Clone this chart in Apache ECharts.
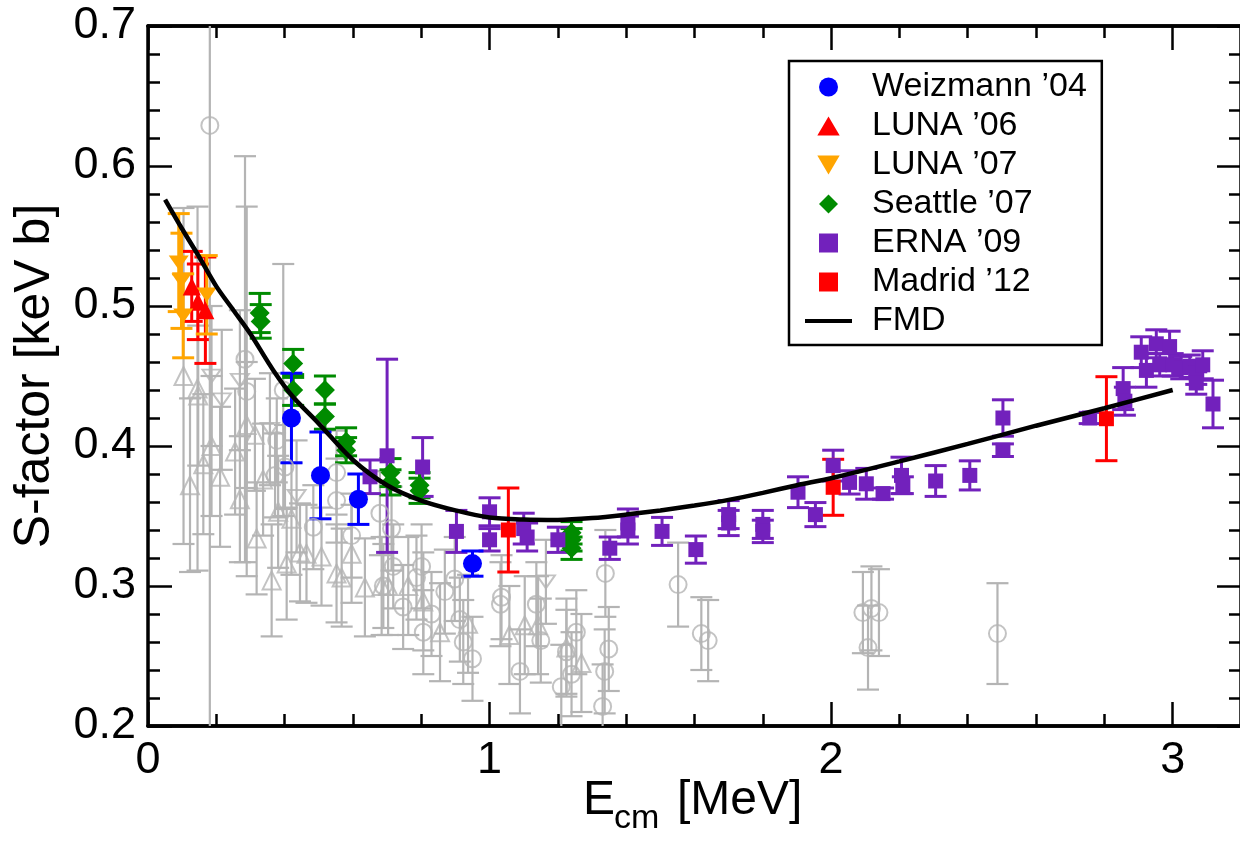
<!DOCTYPE html>
<html>
<head>
<meta charset="utf-8">
<script src="https://cdn.jsdelivr.net/npm/echarts@6/dist/echarts.min.js"></script>
<style>
html, body { margin: 0; padding: 0; background: #fff; }
#chart { width: 1240px; height: 842px; }
</style>
</head>
<body>
<div id="chart"></div>
<script>
// each point: [E_cm (MeV), S (keV b), error]
const weizmann = [[0.42, 0.42, 0.032], [0.505, 0.379, 0.031], [0.616, 0.362, 0.018], [0.95, 0.316, 0.009]];
const luna06 = [[0.128, 0.514, 0.025], [0.146, 0.503, 0.027], [0.168, 0.497, 0.038]];
const luna07 = [[0.09, 0.531, 0.035], [0.098, 0.518, 0.034], [0.103, 0.493, 0.03], [0.172, 0.508, 0.028]];
const seattle = [[0.327, 0.495, 0.014], [0.33, 0.489, 0.012], [0.425, 0.459, 0.01], [0.425, 0.44, 0.011],
	[0.518, 0.44, 0.01], [0.518, 0.421, 0.009], [0.58, 0.403, 0.01], [0.58, 0.397, 0.009],
	[0.71, 0.381, 0.01], [0.71, 0.374, 0.009], [0.795, 0.372, 0.009], [0.795, 0.368, 0.009],
	[1.24, 0.338, 0.008], [1.24, 0.333, 0.008], [1.24, 0.327, 0.008]];
const erna = [[0.65, 0.378, 0.012], [0.70, 0.393, 0.069], [0.804, 0.385, 0.021], [0.903, 0.339, 0.015],
	[1.0, 0.353, 0.01], [1.0, 0.333, 0.008], [1.10, 0.341, 0.011], [1.11, 0.335, 0.01],
	[1.20, 0.333, 0.009], [1.352, 0.327, 0.008], [1.405, 0.345, 0.01], [1.405, 0.340, 0.01],
	[1.505, 0.339, 0.01], [1.604, 0.326, 0.0097], [1.70, 0.351, 0.01], [1.70, 0.345, 0.009],
	[1.80, 0.344, 0.01], [1.80, 0.339, 0.008], [1.903, 0.367, 0.011], [1.954, 0.351, 0.0086],
	[2.006, 0.386, 0.011], [2.054, 0.374, 0.0083], [2.103, 0.373, 0.011], [2.152, 0.366, 0.004],
	[2.206, 0.379, 0.013], [2.21, 0.372, 0.006], [2.306, 0.375, 0.011], [2.406, 0.379, 0.0104],
	[2.503, 0.42, 0.013], [2.503, 0.397, 0.0045], [2.757, 0.42, 0.004], [2.855, 0.441, 0.015],
	[2.86, 0.432, 0.01], [2.908, 0.467, 0.011], [2.923, 0.454, 0.012], [2.952, 0.473, 0.01],
	[2.991, 0.471, 0.011], [2.962, 0.458, 0.008], [3.0, 0.458, 0.008], [3.025, 0.456, 0.008],
	[3.05, 0.457, 0.008], [3.069, 0.452, 0.008], [3.088, 0.458, 0.01], [3.069, 0.445, 0.008],
	[3.118, 0.430, 0.017]];
const madrid = [[1.055, 0.340, 0.03], [2.006, 0.3705, 0.02], [2.806, 0.4195, 0.03]];

// FMD calculation
const fmdE = [0.05, 0.1, 0.15, 0.2, 0.25, 0.3, 0.367, 0.425, 0.5, 0.6, 0.7, 0.8, 0.9, 1.0, 1.1, 1.2,
	1.3, 1.4, 1.5, 1.6, 1.7, 1.8, 1.9, 2.0, 2.2, 2.4, 2.6, 2.8, 3.0];
const fmdS = [0.576, 0.555, 0.535, 0.514, 0.497, 0.48, 0.454, 0.435, 0.416, 0.39, 0.372, 0.361, 0.354, 0.349, 0.3475, 0.3472,
	0.3485, 0.351, 0.354, 0.3575, 0.3615, 0.3665, 0.372, 0.377, 0.389, 0.4015, 0.4145, 0.427, 0.44];

// older measurements (grey)
const greyCircles = [[0.181, 0.629, 0.45], [0.284, 0.462, 0.145], [0.289, 0.439, 0.132], [0.396, 0.44, 0.09],
	[0.377, 0.404, 0.03], [0.401, 0.385, 0.03], [0.372, 0.379, 0.03], [0.552, 0.381, 0.03],
	[0.552, 0.361, 0.03], [0.484, 0.342, 0.03], [0.596, 0.336, 0.03], [0.679, 0.352, 0.03],
	[0.713, 0.341, 0.03], [0.718, 0.314, 0.03], [0.801, 0.314, 0.03], [0.786, 0.306, 0.03],
	[0.689, 0.300, 0.03], [0.747, 0.285, 0.03], [0.806, 0.267, 0.03], [0.83, 0.280, 0.03],
	[0.869, 0.296, 0.03], [0.898, 0.305, 0.03], [0.913, 0.276, 0.03], [0.923, 0.26, 0.03],
	[0.95, 0.248, 0.03], [1.035, 0.292, 0.03], [1.032, 0.287, 0.03], [1.089, 0.239, 0.03],
	[1.137, 0.287, 0.03], [1.15, 0.261, 0.03], [1.21, 0.228, 0.03], [1.225, 0.253, 0.03],
	[1.24, 0.237, 0.03], [1.254, 0.267, 0.03], [1.331, 0.214, 0.03], [1.337, 0.239, 0.03],
	[1.349, 0.255, 0.03], [1.339, 0.309, 0.031], [1.552, 0.301, 0.03], [1.62, 0.266, 0.026],
	[1.64, 0.261, 0.029], [2.093, 0.281, 0.029], [2.118, 0.284, 0.03], [2.14, 0.281, 0.031],
	[2.108, 0.256, 0.03], [2.487, 0.266, 0.036]];
const greyUp = [[0.104, 0.45, 0.12], [0.123, 0.372, 0.062], [0.145, 0.441, 0.13], [0.147, 0.436, 0.05],
	[0.186, 0.40, 0.05], [0.162, 0.387, 0.05], [0.211, 0.378, 0.05], [0.255, 0.396, 0.045],
	[0.269, 0.362, 0.045], [0.289, 0.415, 0.045], [0.313, 0.408, 0.04], [0.318, 0.334, 0.04],
	[0.337, 0.376, 0.04], [0.362, 0.304, 0.04], [0.381, 0.353, 0.04], [0.406, 0.316, 0.04],
	[0.42, 0.348, 0.04], [0.445, 0.324, 0.035], [0.464, 0.323, 0.035], [0.508, 0.321, 0.035],
	[0.552, 0.309, 0.035], [0.567, 0.306, 0.035], [0.596, 0.323, 0.035], [0.635, 0.299, 0.035],
	[0.684, 0.30, 0.035], [0.703, 0.30, 0.035], [0.762, 0.30, 0.035], [0.806, 0.289, 0.035],
	[0.855, 0.267, 0.035], [0.937, 0.273, 0.035], [1.058, 0.265, 0.035], [1.103, 0.272, 0.035],
	[1.142, 0.272, 0.035], [1.225, 0.256, 0.035], [1.269, 0.245, 0.035]];
const greyDown = [[0.186, 0.45, 0.05], [0.216, 0.433, 0.05], [0.269, 0.447, 0.05], [0.357, 0.412, 0.04],
	[0.435, 0.364, 0.04], [1.165, 0.303, 0.03]];

const xTicks = [0, 1, 2, 3];
const Y_MIN = 0.2, Y_MAX = 0.7, X_MIN = 0, X_MAX = 3.2;

const grey = '#b4b4b4';
const font = '"Liberation Sans", Arial, sans-serif';
const upTriangle = 'path://M10,0L20,17L0,17Z';
const downTriangle = 'path://M0,0L20,0L10,17Z';
const diamond = 'path://M10,0L20,10L10,20L0,10Z';
const square = 'path://M0,0L15,0L15,15L0,15Z';

function errorBars(name, data, color, half, width)
{
	return {
		type: 'custom',
		name,
		data,
		silent: true,
		encode: {x: 0, y: 1},
		renderItem: (params, api) =>
		{
			let x = api.value(0), y = api.value(1), e = api.value(2);
			let hi = Math.min(y + e, Y_MAX), lo = Math.max(y - e, Y_MIN);
			let a = api.coord([x, hi]), b = api.coord([x, lo]);
			let style = {stroke: color, lineWidth: width};
			let children = [{type: 'line', shape: {x1: a[0], y1: a[1], x2: b[0], y2: b[1]}, style}];
			if (y + e <= Y_MAX)
				children.push({type: 'line', shape: {x1: a[0] - half, y1: a[1], x2: a[0] + half, y2: a[1]}, style});
			if (y - e >= Y_MIN)
				children.push({type: 'line', shape: {x1: b[0] - half, y1: b[1], x2: b[0] + half, y2: b[1]}, style});
			return {type: 'group', children};
		}
	};
}

function points(name, data, color, symbol, symbolSize, open)
{
	return {
		type: 'scatter',
		name,
		data: data.map(p => [p[0], p[1]]),
		symbol,
		symbolSize,
		symbolKeepAspect: true,
		itemStyle: open
			? {color: 'rgba(0,0,0,0)', borderColor: color, borderWidth: 2}
			: {color, opacity: 1}
	};
}

const majorTick = {show: true, inside: true, length: 24, lineStyle: {color: '#000', width: 2.5}};
const minorTick = {show: true, inside: true, length: 12, lineStyle: {color: '#000', width: 2.5}};
const line = {show: true, onZero: false, lineStyle: {color: '#000', width: 3.5}};

function xAxis(position, interval, tick, labels)
{
	return {
		type: 'value', position, min: X_MIN, max: X_MAX, interval,
		axisLine: line, axisTick: tick, splitLine: {show: false},
		axisLabel: {show: labels, fontSize: 45, color: '#000', fontFamily: font, margin: 12,
			formatter: v => xTicks.includes(Math.round(v * 1000) / 1000) ? String(Math.round(v)) : ''}
	};
}

function yAxis(position, labels)
{
	return {
		type: 'value', position, min: Y_MIN, max: Y_MAX, interval: 0.1,
		axisLine: line, axisTick: majorTick, splitLine: {show: false},
		minorTick: {show: true, splitNumber: 5, length: 12, lineStyle: {color: '#000', width: 2.5}},
		axisLabel: {show: labels, fontSize: 45, color: '#000', fontFamily: font, margin: 12,
			formatter: v => v.toFixed(1)},
		name: labels ? 'S-factor [keV b]' : '',
		nameLocation: 'middle',
		nameGap: 88,
		nameMoveOverlap: false,
		nameTextStyle: {fontSize: 50, color: '#000', fontFamily: font}
	};
}

const chart = echarts.init(document.getElementById('chart'), null, {renderer: 'canvas'});
chart.setOption({
	animation: false,
	backgroundColor: '#fff',
	grid: {left: 148, top: 26, width: 1093, height: 700, outerBoundsMode: 'none'},
	xAxis: [xAxis('bottom', 1, majorTick, true), xAxis('bottom', 0.2, minorTick, false),
		xAxis('top', 1, majorTick, false), xAxis('top', 0.2, minorTick, false)],
	yAxis: [yAxis('left', true), yAxis('right', false)],
	legend: {
		orient: 'vertical',
		left: 789,
		top: 61,
		padding: [9, 15, 7, 14],
		borderColor: '#000',
		borderWidth: 2.5,
		itemWidth: 47,
		itemHeight: 19,
		itemGap: 5,
		symbolKeepAspect: true,
		selectedMode: false,
		textStyle: {fontSize: 34, lineHeight: 34, color: '#000', fontFamily: font, padding: [0, 0, 0, 15]},
		data: ['Weizmann \u201904',
			{name: 'LUNA \u201906', icon: upTriangle},
			{name: 'LUNA \u201907', icon: downTriangle},
			{name: 'Seattle \u201907', icon: diamond},
			{name: 'ERNA \u201909', icon: square},
			{name: 'Madrid \u201912', icon: square},
			{name: 'FMD', itemStyle: {color: 'rgba(0,0,0,0)', borderWidth: 0}, lineStyle: {width: 4, color: '#000'}}]
	},
	graphic: [
		{type: 'text', left: 583, top: 777, style: {text: 'E', fontSize: 48, fontFamily: font, fill: '#000'}},
		{type: 'text', left: 614, top: 802, style: {text: 'cm', fontSize: 34, fontFamily: font, fill: '#000'}},
		{type: 'text', left: 677, top: 777, style: {text: '[MeV]', fontSize: 48, fontFamily: font, fill: '#000'}}
	],
	series: [
		errorBars('grey-c', greyCircles, grey, 11, 2.2),
		errorBars('grey-u', greyUp, grey, 11, 2.2),
		errorBars('grey-d', greyDown, grey, 11, 2.2),
		points('old-c', greyCircles, grey, 'circle', 17, true),
		points('old-u', greyUp, grey, 'triangle', 18, true),
		points('old-d', greyDown, grey, downTriangle, [18, 15], true),
		errorBars('e-luna06', luna06, '#ff0000', 11, 3),
		points('LUNA \u201906', luna06, '#ff0000', 'triangle', 18),
		errorBars('e-luna07', luna07, '#ffa500', 11, 3),
		points('LUNA \u201907', luna07, '#ffa500', downTriangle, [20, 17]),
		errorBars('e-seattle', seattle, '#008b00', 11, 3),
		points('Seattle \u201907', seattle, '#008b00', 'diamond', 20),
		errorBars('e-erna', erna, '#7221bc', 11, 3),
		points('ERNA \u201909', erna, '#7221bc', 'rect', 15),
		errorBars('e-weizmann', weizmann, '#0000ff', 11, 3),
		points('Weizmann \u201904', weizmann, '#0000ff', 'circle', 19),
		errorBars('e-madrid', madrid, '#ff0000', 11, 3),
		points('Madrid \u201912', madrid, '#ff0000', 'rect', 15),
		{
			type: 'line',
			name: 'FMD',
			data: fmdE.map((e, i) => [e, fmdS[i]]),
			smooth: 0.3,
			showSymbol: false,
			symbol: 'none',
			lineStyle: {color: '#000', width: 4.5},
			itemStyle: {color: '#000'}
		}
	]
});
</script>
</body>
</html>
